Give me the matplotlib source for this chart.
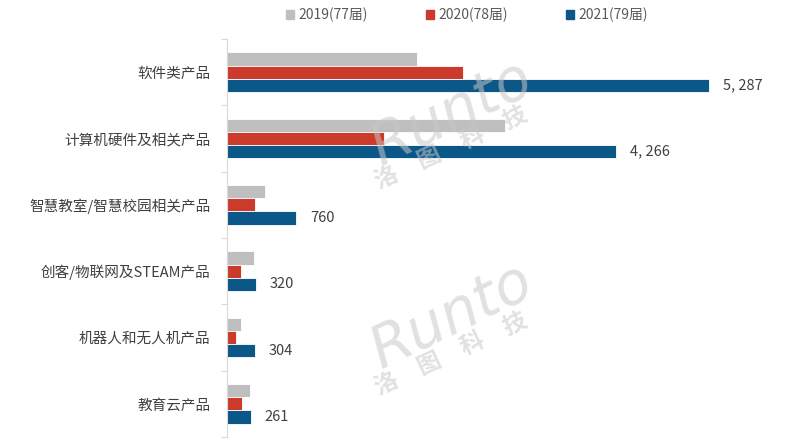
import matplotlib
matplotlib.use("Agg")
import matplotlib.pyplot as plt
import numpy as np
from matplotlib.patches import Patch

plt.rcParams['font.family'] = ['Noto Sans CJK SC', 'DejaVu Sans']

categories = ["软件类产品", "计算机硬件及相关产品", "智慧教室/智慧校园相关产品",
              "创客/物联网及STEAM产品", "机器人和无人机产品", "教育云产品"]
series_names = ["2019(77届)", "2020(78届)", "2021(79届)"]
v2019 = [2080, 3050, 420, 300, 155, 255]
v2020 = [2590, 1720, 305, 155, 100, 165]
v2021 = [5287, 4266, 760, 320, 304, 261]
labels2021 = ["5, 287", "4, 266", "760", "320", "304", "261"]

COLORS = ["#BFBFBF", "#CB3A2B", "#0B5788"]

fig = plt.figure(figsize=(7.86, 4.47), dpi=100)
ax = fig.add_axes([227 / 786, 1 - 437 / 447, 553 / 786, 398 / 447])

y = np.arange(len(categories))
h = 0.2
for k, (vals, col) in enumerate(zip([v2019, v2020, v2021], COLORS)):
    ax.barh(y + (k - 1) * h, vals, height=h, color=col, edgecolor="white",
            linewidth=0.6, zorder=2, label=series_names[k])

for yi, v, lab in zip(y, v2021, labels2021):
    ax.text(v + 150, yi + h, lab, va="center", ha="left", fontsize=10.5, color="#404040")

ax.set_xlim(0, 6064)
ax.set_ylim(5.5, -0.5)
ax.set_xticks([])
ax.set_yticks(y)
ax.set_yticklabels(categories, fontsize=10.5, color="#404040")
ax.set_yticks(np.arange(-0.5, 6.0, 1.0), minor=True)
ax.tick_params(axis="y", which="major", length=0, pad=12)
ax.tick_params(axis="y", which="minor", length=4, color="#D9D9D9", width=0.8)
for s in ["top", "right", "bottom"]:
    ax.spines[s].set_visible(False)
ax.spines["left"].set_color("#D9D9D9")
ax.spines["left"].set_linewidth(0.8)

# watermark
for ry, cy in [(0.747, 0.669), (0.293, 0.208)]:
    fig.text(0.574, ry, "Runto", fontsize=42, style="italic", color="#C8C8C8",
             alpha=0.55, rotation=26, ha="center", va="center", rotation_mode="anchor",
             zorder=10, family="DejaVu Sans")
    fig.text(0.574, cy, "洛\u3000图\u3000科\u3000技", fontsize=17, fontweight="bold",
             color="#C8C8C8", alpha=0.55, rotation=25, ha="center", va="center",
             rotation_mode="anchor", zorder=10)

handles = [Patch(color=c) for c in COLORS]
fig.legend(handles, series_names, loc="center", bbox_to_anchor=(0.594, 0.967), ncol=3,
           frameon=False, fontsize=10, handlelength=0.6, handleheight=0.6,
           handletextpad=0.3, columnspacing=4.2, labelcolor="#595959")

fig.savefig("out.png", dpi=100)
